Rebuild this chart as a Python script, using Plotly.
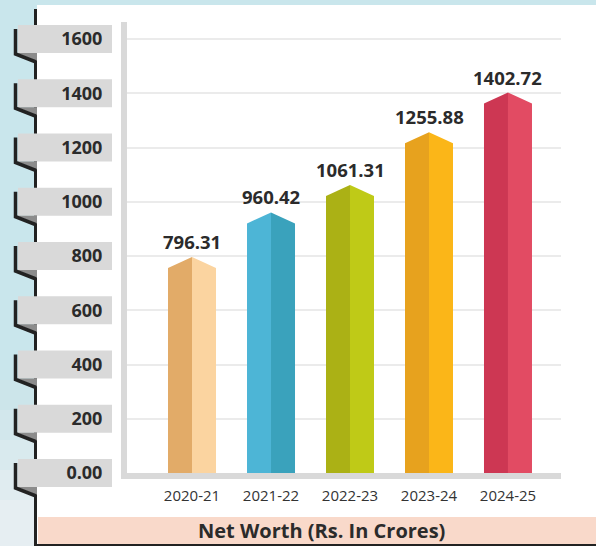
import plotly.graph_objects as go

years = ["2020-21", "2021-22", "2022-23", "2023-24", "2024-25"]
net_worth = [796.31, 960.42, 1061.31, 1255.88, 1402.72]
left_colors = ["#E2AB68", "#4DB5D6", "#ABB115", "#E7A21E", "#CD3753"]
right_colors = ["#FBD4A0", "#3AA2BC", "#BFCA17", "#FBB618", "#E24B63"]
tick_values = [0, 200, 400, 600, 800, 1000, 1200, 1400, 1600]
tick_labels = ["0.00", "200", "400", "600", "800", "1000", "1200", "1400", "1600"]

W, H = 596, 546
L, R, T, B = 127, 35, 22, 73
PW, PH = W - L - R, H - T - B
YMAX = 1600 * PH / 434
X0, X1 = -0.823, 4.671
FONT = "Open Sans"
DARK = "#2B2B2B"

half_w = 24 * (X1 - X0) / PW      # bar half width (24 px)
shoulder = 11 * YMAX / PH         # pointed top depth (11 px)


def px(x):
    return (x - L) / PW


def py(y):
    return (H - B - y) / PH


def path(points, close=True):
    s = " ".join(("M" if i == 0 else "L") + f"{px(x):.5f},{py(y):.5f}"
                 for i, (x, y) in enumerate(points))
    return s + (" Z" if close else "")


fig = go.Figure()

for i, v in enumerate(net_worth):
    fig.add_trace(go.Scatter(
        x=[i - half_w, i - half_w, i, i, i - half_w],
        y=[0, v - shoulder, v, 0, 0],
        fill="toself", fillcolor=left_colors[i], mode="lines",
        line=dict(width=0), hoverinfo="skip", showlegend=False))
    fig.add_trace(go.Scatter(
        x=[i, i, i + half_w, i + half_w, i],
        y=[0, v, v - shoulder, 0, 0],
        fill="toself", fillcolor=right_colors[i], mode="lines",
        line=dict(width=0), hoverinfo="skip", showlegend=False))

shapes = []
# left strip fading lighter towards the bottom
fade = ["#CCE5EA", "#D2E7EC", "#D9EAEE", "#E0ECF0", "#E6EEF2"]
for k, c in enumerate(fade):
    shapes.append(dict(type="rect", xref="paper", yref="paper", layer="below",
                       x0=px(0), x1=px(37), y0=py(H), y1=py(380 + 30 * k),
                       fillcolor=c, line=dict(width=0)))

shapes += [
    # white page
    dict(type="rect", xref="paper", yref="paper", layer="below",
         x0=px(37), x1=px(W), y0=py(544), y1=py(5),
         fillcolor="white", line=dict(width=0)),
    # bottom title band
    dict(type="rect", xref="paper", yref="paper", layer="below",
         x0=px(38), x1=px(W), y0=py(544), y1=py(517),
         fillcolor="#F9D9CA", line=dict(width=0)),
    dict(type="rect", xref="paper", yref="paper", layer="below",
         x0=px(34), x1=px(W), y0=py(H), y1=py(544),
         fillcolor="#222222", line=dict(width=0)),
    # page edge
    dict(type="line", xref="paper", yref="paper", layer="below",
         x0=px(35.5), x1=px(35.5), y0=py(9), y1=py(H),
         line=dict(color="#222222", width=3)),
]

for v in tick_values:
    yc = H - B - v * PH / YMAX
    shapes.append(dict(type="rect", xref="paper", yref="paper", layer="below",
                       x0=px(18), x1=px(112), y0=py(yc + 14), y1=py(yc - 14),
                       fillcolor="#D9D9D9", line=dict(width=0)))
    shapes.append(dict(type="path", xref="paper", yref="paper", layer="below",
                       path=path([(17, yc + 14), (37, yc + 14), (37, yc + 22)]),
                       fillcolor="#8C8C8C", line=dict(width=0)))
    shapes.append(dict(type="path", xref="paper", yref="paper", layer="below",
                       path=path([(15.5, yc - 10), (15.5, yc + 15), (36, yc + 23)], close=False),
                       line=dict(color="#222222", width=3.5)))

annotations = []
for i, v in enumerate(net_worth):
    annotations.append(dict(
        x=i, y=v, text=f"{v:.2f}", showarrow=False, yanchor="bottom", yshift=1,
        font=dict(family=FONT, size=18.5, color=DARK, weight="bold")))

annotations.append(dict(
    x=px(321), y=py(530), xref="paper", yref="paper", text="Net Worth (Rs. In Crores)",
    xanchor="center", yanchor="middle", showarrow=False,
    font=dict(family=FONT, size=20, color=DARK, weight="bold")))

fig.update_layout(
    width=W, height=H,
    margin=dict(l=L, r=R, t=T, b=B),
    paper_bgcolor="#C9E6EC",
    plot_bgcolor="rgba(0,0,0,0)",
    shapes=shapes,
    annotations=annotations,
    xaxis=dict(range=[X0, X1], tickvals=list(range(len(years))), ticktext=years,
               showgrid=False, zeroline=False, showline=True, linecolor="#D9D9D9",
               linewidth=6, ticks="", ticklabelstandoff=4,
               tickfont=dict(family=FONT, size=15, color="#333333")),
    yaxis=dict(range=[0, YMAX], tickvals=tick_values, ticktext=tick_labels,
               showgrid=True, gridcolor="#EBEBEB", gridwidth=2, zeroline=False,
               showline=True, linecolor="#D9D9D9", linewidth=6, ticks="",
               ticklabelstandoff=15,
               tickfont=dict(family=FONT, size=18, color=DARK, weight="bold")),
)

fig.write_html("out.html", config={"displayModeBar": False},
               post_script="document.body.style.margin='0';")
